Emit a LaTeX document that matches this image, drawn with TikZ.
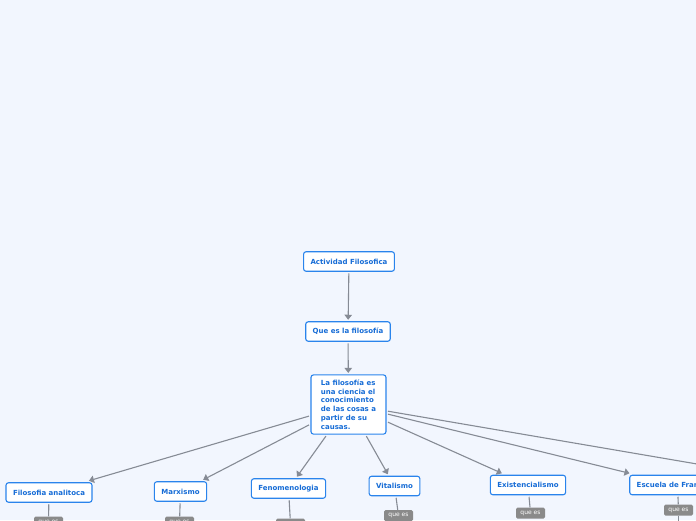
\documentclass[tikz,border=0pt]{standalone}
\usepackage{fontspec}
\setmainfont{DejaVu Sans}
\usetikzlibrary{arrows.meta, positioning}
\definecolor{fondo}{RGB}{242,246,254}
\definecolor{azul}{RGB}{42,132,236}
\definecolor{texto}{RGB}{22,108,214}
\definecolor{gris}{RGB}{134,139,149}
\definecolor{etiq}{RGB}{138,138,138}

\begin{document}
\begin{tikzpicture}[
        x=1pt, y=-1pt,
        block/.style={rectangle, draw=azul, line width=1.1pt, rounded corners=2.5pt, fill=white, text=texto, font=\fontsize{7}{8.7}\selectfont\bfseries, inner xsep=7pt, minimum height=19.5pt, outer sep=2pt},
        tag/.style={rectangle, rounded corners=1.5pt, fill=etiq, text=white, font=\fontsize{6}{7}\selectfont, inner xsep=3pt, inner ysep=0pt, minimum height=11pt, minimum width=29pt},
        arrow/.style={-{Triangle[width=7.5pt,length=5pt]}, line width=1.1pt, gris},
        link/.style={line width=1.1pt, gris}
    ]
        \fill[fondo] (0,0) rectangle (696,520);
        \useasboundingbox (0,0) rectangle (696,520);

        \node[block] (act) at (349,261.5) {Actividad Filosofica};
        \node[block] (que) at (348,331.5) {Que es la filosofía};
        \node[block, align=left, minimum width=75pt, inner ysep=5pt] (def) at (348.5,404.5) {La filosofía es\\una ciencia el\\conocimiento\\de las cosas a\\partir de su\\causas.};

        \node[block] (anal) at (49,492.5) {Filosofia analitoca};
        \node[block] (marx) at (180.5,491.5) {Marxismo};
        \node[block] (feno) at (288.5,488.5) {Fenomenologia};
        \node[block] (vita) at (394.5,486) {Vitalismo};
        \node[block] (exis) at (528,485) {Existencialismo};
        \node[block] (fran) at (677.5,485) {Escuela de Frankfurt};
        \coordinate (otro) at (820,485);

        \draw[arrow] (act) -- (que);
        \draw[arrow] (que) -- (def);
        \draw[arrow] (def) -- (anal);
        \draw[arrow] (def) -- (marx);
        \draw[arrow] (def) -- (feno);
        \draw[arrow] (def) -- (vita);
        \draw[arrow] (def) -- (exis);
        \draw[arrow] (def) -- (fran);
        \draw[arrow] (def) -- (otro);

        % etiquetas "que es"
        \node[tag] (qanal) at (48.5,522) {que es};
        \node[tag] (qmarx) at (179.5,522) {que es};
        \node[tag] (qfeno) at (290.5,524) {que es};
        \node[tag] (qvita) at (398.5,515.5) {que es};
        \node[tag] (qexis) at (530.5,513) {que es};
        \node[tag] (qfran) at (678.5,510) {que es};
        \coordinate (bajo) at (678.5,535);

        \draw[link] (anal) -- (qanal);
        \draw[link] (marx) -- (qmarx);
        \draw[link] (feno) -- (qfeno);
        \draw[link] (vita) -- (qvita);
        \draw[link] (exis) -- (qexis);
        \draw[link] (fran) -- (qfran);
        \draw[link] (qfran) -- (bajo);
    \end{tikzpicture}
\end{document}
